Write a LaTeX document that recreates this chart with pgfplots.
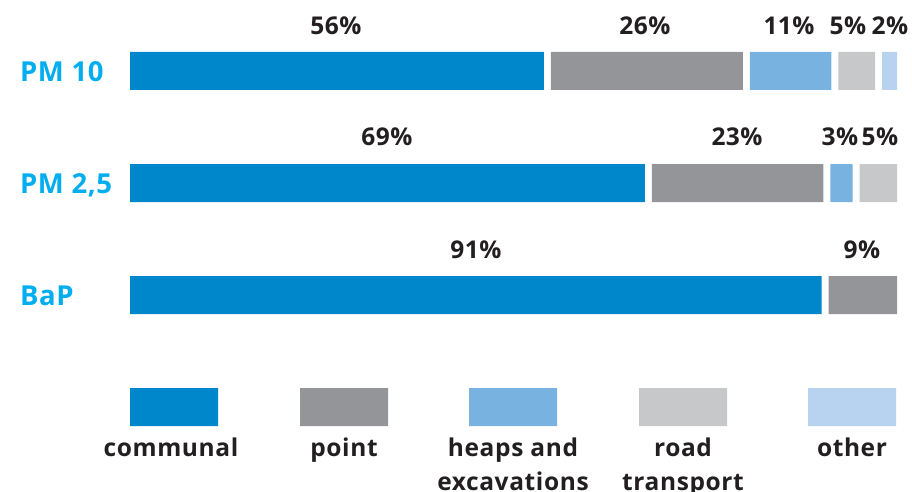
\documentclass[border=0pt]{standalone}
\usepackage{pgfplots}
\pgfplotsset{compat=1.18}
\usepackage{pgfplotstable}
\usepackage{fontspec}
\setmainfont{Open Sans}
\definecolor{cComm}{HTML}{0086CB}
\definecolor{cPoint}{HTML}{939598}
\definecolor{cHeap}{HTML}{78B2E0}
\definecolor{cRoad}{HTML}{C7C8CA}
\definecolor{cOther}{HTML}{B7D3EF}
\definecolor{cLab}{HTML}{00AEEF}
\definecolor{cTxt}{HTML}{231F20}
% y = bar centre (px from bottom), s = px per percent in that row,
% off = left margin, g* = white gaps between segments (px)
% last row: legend swatches (s=1, widths in px)
\pgfplotstableread{
y   s    off communal g1 point g2 heaps g3 road g4 other
420 7.39 130 56       7  26    7  11    7  5    7  2
308 7.46 130 69       7  23    7  3     7  5    0  0
196 7.60 130 91       7  9     0  0     0  0    0  0
84  1    130 88       82 88    81 88    82 88   81 88
}\data
\newcommand\pct{\fontsize{24.5}{28}\selectfont\bfseries\addfontfeatures{LetterSpace=2}\color{cTxt}}
\newcommand\row{\fontsize{27.5}{30}\selectfont\bfseries\addfontfeatures{LetterSpace=2}\color{cLab}}
\newcommand\leg{\fontsize{24.5}{35}\selectfont\bfseries\addfontfeatures{LetterSpace=2.5}\color{cTxt}}
\begin{document}
\begin{tikzpicture}
\useasboundingbox (0,0) rectangle (912pt,491pt);
\begin{axis}[at={(0,0)}, anchor=south west, scale only axis,
  width=912pt, height=491pt, xmin=0, xmax=912, ymin=0, ymax=491,
  hide axis, clip=false, xbar stacked, bar width=38pt]
\addplot[draw=none, fill=none] table[x=off, y=y] \data;
\addplot[draw=none, fill=cComm] table[x expr=\thisrow{communal}*\thisrow{s}, y=y] \data;
\addplot[draw=none, fill=none] table[x=g1, y=y] \data;
\addplot[draw=none, fill=cPoint] table[x expr=\thisrow{point}*\thisrow{s}, y=y] \data;
\addplot[draw=none, fill=none] table[x=g2, y=y] \data;
\addplot[draw=none, fill=cHeap] table[x expr=\thisrow{heaps}*\thisrow{s}, y=y] \data;
\addplot[draw=none, fill=none] table[x=g3, y=y] \data;
\addplot[draw=none, fill=cRoad] table[x expr=\thisrow{road}*\thisrow{s}, y=y] \data;
\addplot[draw=none, fill=none] table[x=g4, y=y] \data;
\addplot[draw=none, fill=cOther] table[x expr=\thisrow{other}*\thisrow{s}, y=y] \data;
% percentage labels
\node[anchor=base, font=\pct] at (axis cs:336,456.7) {56\%};
\node[anchor=base, font=\pct] at (axis cs:645,456.7) {26\%};
\node[anchor=base, font=\pct] at (axis cs:789,456.7) {11\%};
\node[anchor=base, font=\pct] at (axis cs:848,456.7) {5\%};
\node[anchor=base, font=\pct] at (axis cs:890,456.7) {2\%};
\node[anchor=base, font=\pct] at (axis cs:387,345) {69\%};
\node[anchor=base, font=\pct] at (axis cs:737,345) {23\%};
\node[anchor=base, font=\pct] at (axis cs:840,345) {3\%};
\node[anchor=base, font=\pct] at (axis cs:880,345) {5\%};
\node[anchor=base, font=\pct] at (axis cs:476,233) {91\%};
\node[anchor=base, font=\pct] at (axis cs:862,233) {9\%};
% row labels
\node[anchor=base west, inner sep=0pt, font=\row] at (axis cs:20,409.3) {PM 10};
\node[anchor=base west, inner sep=0pt, font=\row] at (axis cs:20,297.7) {PM 2,5};
\node[anchor=base west, inner sep=0pt, font=\row] at (axis cs:20,185.3) {BaP};
% legend labels
\node[anchor=base, inner sep=0pt, font=\leg] at (axis cs:171,35) {communal};
\node[anchor=base, inner sep=0pt, font=\leg] at (axis cs:344,35) {point};
\node[anchor=base, inner sep=0pt, font=\leg] at (axis cs:513,35) {heaps and};
\node[anchor=base, inner sep=0pt, font=\leg] at (axis cs:513,1) {excavations};
\node[anchor=base, inner sep=0pt, font=\leg] at (axis cs:683,35) {road};
\node[anchor=base, inner sep=0pt, font=\leg] at (axis cs:683,1) {transport};
\node[anchor=base, inner sep=0pt, font=\leg] at (axis cs:852,35) {other};
\end{axis}
\end{tikzpicture}
\end{document}
